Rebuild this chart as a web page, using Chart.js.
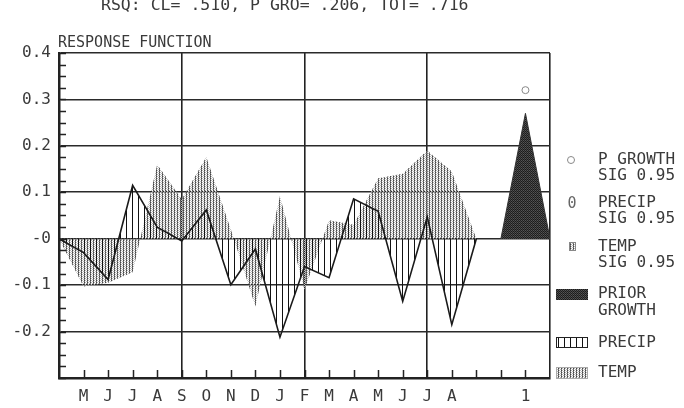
<!DOCTYPE html>
<html>
<head>
<meta charset="utf-8">
<script src="https://cdn.jsdelivr.net/npm/chart.js@4.4.1/dist/chart.umd.min.js"></script>
<style>
  html, body { margin: 0; padding: 0; background: #fff; }
  canvas { display: block; }
</style>
</head>
<body>
<canvas id="chart" width="684" height="408"></canvas>
<script>
// response function coefficients, prior May .. current August
const months = ['M', 'J', 'J', 'A', 'S', 'O', 'N', 'D', 'J', 'F', 'M', 'A', 'M', 'J', 'J', 'A'];
const precipValues = [-0.03, -0.088, 0.115, 0.025, -0.005, 0.062, -0.099, -0.022, -0.212, -0.06, -0.084, 0.086, 0.059, -0.135, 0.047, -0.185];
const tempValues = [-0.103, -0.095, -0.072, 0.16, 0.085, 0.176, 0.02, -0.146, 0.092, -0.11, 0.04, 0.03, 0.13, 0.14, 0.19, 0.145];
// prior growth (lag 1) and its significance marker
const priorGrowthValues = [0.27];
const priorGrowthSig = [0.32];
const xTickLabels = ['', ...months, '', '', '1', ''];
const headerText = 'RSQ: CL= .510, P GRO= .206, TOT= .716';

const FONT = '"DejaVu Sans Mono", monospace';
const INK = '#3a3a3a';

function makePattern(w, h, pixels) {
  const c = document.createElement('canvas');
  c.width = w;
  c.height = h;
  const g = c.getContext('2d');
  pixels.forEach(([px, py, col]) => {
    g.fillStyle = col;
    g.fillRect(px, py, 1, 1);
  });
  return g.createPattern(c, 'repeat');
}

const tempPattern = makePattern(3, 2, [[0, 0, '#444'], [0, 1, '#777'], [1, 0, '#bbb'], [2, 1, '#bbb']]);
const precipPattern = makePattern(6, 1, [[0, 0, '#111']]);
const priorPattern = makePattern(2, 2, [[0, 0, '#222'], [1, 0, '#555'], [0, 1, '#444'], [1, 1, '#1a1a1a']]);

// polygon closed to zero one step before and after the months
const monthPoints = (vals) => [
  { x: 0, y: 0 },
  ...vals.map((v, i) => ({ x: i + 1, y: v })),
  { x: vals.length + 1, y: 0 },
];
const lagStart = 18;
const priorPoints = [
  { x: lagStart, y: 0 },
  ...priorGrowthValues.map((v, i) => ({ x: lagStart + i + 1, y: v })),
  { x: lagStart + priorGrowthValues.length + 1, y: 0 },
];
const sigPoints = priorGrowthSig.map((v, i) => ({ x: lagStart + i + 1, y: v }));

const decorPlugin = {
  id: 'decor',
  afterDraw(chart) {
    const { ctx, chartArea: area, scales: { x, y } } = chart;
    ctx.save();

    // inward minor ticks
    ctx.strokeStyle = '#222';
    ctx.lineWidth = 1.5;
    ctx.beginPath();
    for (let k = 0; k <= 28; k++) {
      const py = Math.round(y.getPixelForValue(-0.3 + k * 0.025)) + 0.5;
      ctx.moveTo(area.left, py);
      ctx.lineTo(area.left + 7, py);
    }
    for (let i = 1; i < 20; i++) {
      const px = Math.round(x.getPixelForValue(i)) + 0.5;
      ctx.moveTo(px, area.bottom);
      ctx.lineTo(px, area.bottom - 8);
    }
    ctx.stroke();

    ctx.fillStyle = INK;
    ctx.textBaseline = 'middle';
    ctx.textAlign = 'left';
    ctx.font = '16.5px ' + FONT;
    ctx.fillText(headerText, 101, 6);
    ctx.font = '15px ' + FONT;
    ctx.fillText('RESPONSE FUNCTION', 58, 43);

    // legend
    const lx = 598;
    ctx.font = '16px ' + FONT;
    ctx.fillText('P GROWTH', lx, 160);
    ctx.fillText('SIG 0.95', lx, 176);
    ctx.fillText('PRECIP', lx, 203);
    ctx.fillText('SIG 0.95', lx, 219);
    ctx.fillText('TEMP', lx, 247);
    ctx.fillText('SIG 0.95', lx, 263);
    ctx.fillText('PRIOR', lx, 294);
    ctx.fillText('GROWTH', lx, 311);
    ctx.fillText('PRECIP', lx, 343);
    ctx.fillText('TEMP', lx, 373);

    ctx.strokeStyle = '#888';
    ctx.lineWidth = 1;
    ctx.beginPath();
    ctx.arc(571, 160, 3.5, 0, Math.PI * 2);
    ctx.stroke();
    ctx.fillStyle = '#666';
    ctx.font = '15px ' + FONT;
    ctx.textAlign = 'center';
    ctx.fillText('0', 572, 204);
    ctx.fillStyle = tempPattern;
    ctx.fillRect(569, 242, 7, 9);
    ctx.strokeRect(569.5, 242.5, 6, 8);

    ctx.fillStyle = priorPattern;
    ctx.fillRect(556, 289, 32, 11);
    ctx.fillStyle = precipPattern;
    ctx.fillRect(556, 337, 32, 11);
    ctx.strokeStyle = '#222';
    ctx.strokeRect(556.5, 337.5, 31, 10);
    ctx.fillStyle = tempPattern;
    ctx.fillRect(556, 367, 32, 12);
    ctx.strokeStyle = '#aaa';
    ctx.strokeRect(556.5, 367.5, 31, 11);

    ctx.restore();
  },
};

new Chart(document.getElementById('chart'), {
  type: 'line',
  data: {
    datasets: [
      {
        label: 'P GROWTH SIG 0.95',
        data: sigPoints,
        showLine: false,
        pointRadius: 3.5,
        pointStyle: 'circle',
        pointBorderColor: '#888',
        pointBackgroundColor: '#fff',
        pointBorderWidth: 1,
      },
      {
        label: 'PRECIP',
        data: monthPoints(precipValues),
        borderColor: '#1a1a1a',
        borderWidth: 1.6,
        backgroundColor: precipPattern,
        fill: 'origin',
        pointRadius: 0,
        tension: 0,
      },
      {
        label: 'TEMP',
        data: monthPoints(tempValues),
        borderColor: 'rgba(0,0,0,0)',
        borderWidth: 0,
        backgroundColor: tempPattern,
        fill: 'origin',
        pointRadius: 0,
        tension: 0,
      },
      {
        label: 'PRIOR GROWTH',
        data: priorPoints,
        borderColor: '#333',
        borderWidth: 1,
        backgroundColor: priorPattern,
        fill: 'origin',
        pointRadius: 0,
        tension: 0,
      },
    ],
  },
  options: {
    responsive: false,
    animation: false,
    devicePixelRatio: 1,
    layout: { padding: { top: 53, right: 134, bottom: 0, left: 0 } },
    plugins: {
      legend: { display: false },
      tooltip: { enabled: false },
    },
    scales: {
      x: {
        type: 'linear',
        min: 0,
        max: 20,
        afterFit: (s) => { s.height = 30; },
        ticks: {
          stepSize: 1,
          autoSkip: false,
          maxRotation: 0,
          padding: 9,
          color: INK,
          font: { family: FONT, size: 16 },
          callback: (v) => xTickLabels[v] || '',
        },
        grid: {
          color: (c) => (c.tick && c.tick.value % 5 === 0 ? '#222' : 'rgba(0,0,0,0)'),
          lineWidth: 1.6,
          drawTicks: false,
        },
        border: { color: '#222', width: 2.5 },
      },
      y: {
        min: -0.3,
        max: 0.4,
        afterFit: (s) => { s.width = 59; },
        ticks: {
          stepSize: 0.1,
          padding: 8,
          color: INK,
          font: { family: FONT, size: 16 },
          callback: (v) => {
            if (Math.abs(v) < 1e-9) return '-0';
            if (v < -0.25) return '';
            return v.toFixed(1);
          },
        },
        grid: { color: '#2a2a2a', lineWidth: 1.6, drawTicks: false },
        border: { color: '#222', width: 2.5 },
      },
    },
  },
  plugins: [decorPlugin],
});
</script>
</body>
</html>
